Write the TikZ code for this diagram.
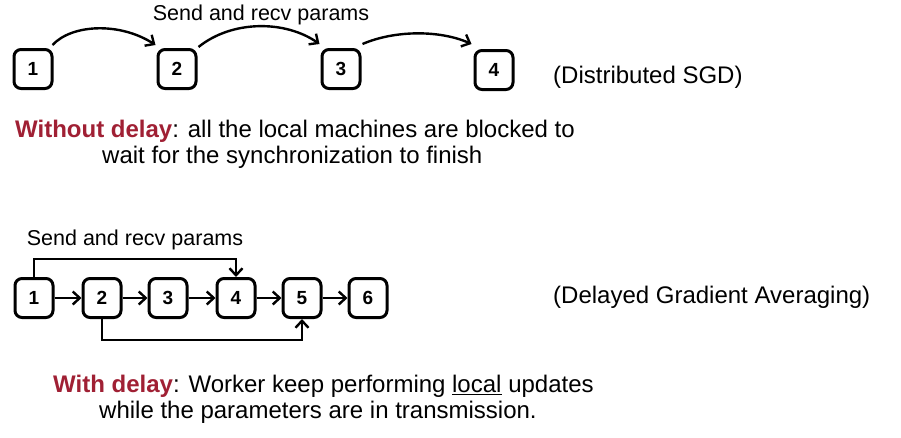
\documentclass[tikz,border=0pt]{standalone}
\usepackage{fontspec}
\setmainfont{Liberation Sans}
\usetikzlibrary{arrows.meta}
\definecolor{dred}{RGB}{160,32,52}
\begin{document}
\begin{tikzpicture}[x=1pt,y=-1pt,
  box/.style={draw,line width=3pt,rounded corners=7pt,minimum width=38pt,minimum height=39pt,inner sep=0pt,font=\bfseries\fontsize{19}{19}\selectfont},
  conn/.style={line width=2.4pt,-{Straight Barb[length=7pt,width=13pt,line width=2.4pt]}},
  lab/.style={font=\fontsize{21.5}{21.5}\selectfont,inner sep=0pt},
  side/.style={font=\fontsize{24}{24}\selectfont,inner sep=0pt,anchor=west},
  txt/.style={font=\fontsize{24}{24}\selectfont,inner sep=0pt,anchor=west}]
\useasboundingbox[fill=white] (0,0) rectangle (901,437);
% top
\node[box] (a1) at (33,69) {1};
\node[box] (a2) at (177,69) {2};
\node[box] (a3) at (341,69) {3};
\node[box] (a4) at (494,70) {4};
\draw[conn] ([xshift=-1pt,yshift=3pt]a1.north east) .. controls (72,24) and (120,22) .. ([xshift=-1pt,yshift=3pt]a2.north west);
\draw[conn] ([xshift=1pt,yshift=1pt]a2.north east) .. controls (232,20) and (285,20) .. ([xshift=-1pt,yshift=4pt]a3.north west);
\draw[conn] ([xshift=1pt,yshift=4pt]a3.north east) .. controls (395,30) and (440,30) .. ([xshift=-2pt,yshift=5pt]a4.north west);
\node[lab] (l1) at (261,15) {Send and recv params};
\node[side] (d1) at (553,77) {(Distributed SGD)};
\node[txt] (t1) at (15,131) {\textbf{\textcolor{dred}{Without delay}}: all the local machines are blocked to};
\node[txt] (t2) at (102,157) {wait for the synchronization to finish};
% bottom
\node[box] (b1) at (34,298) {1};
\node[box] (b2) at (102,298) {2};
\node[box] (b3) at (168,298) {3};
\node[box] (b4) at (236,298) {4};
\node[box] (b5) at (302,298) {5};
\node[box] (b6) at (368,298) {6};
\draw[conn] (b1) -- (b2);
\draw[conn] (b2) -- (b3);
\draw[conn] (b3) -- (b4);
\draw[conn] (b4) -- (b5);
\draw[conn] (b5) -- (b6);
\draw[conn] (b1.north) -- ++(0,-18) -| (b4.north);
\draw[conn] (b2.south) -- ++(0,21) -| (b5.south);
\node[lab] (l2) at (135,240) {Send and recv params};
\node[side] (d2) at (553,297) {(Delayed Gradient Averaging)};
\node[txt] (t3) at (53,386) {\textbf{\textcolor{dred}{With delay}}: Worker keep performing \underline{local} updates};
\node[txt] (t4) at (99,412) {while the parameters are in transmission.};
\end{tikzpicture}
\end{document}
